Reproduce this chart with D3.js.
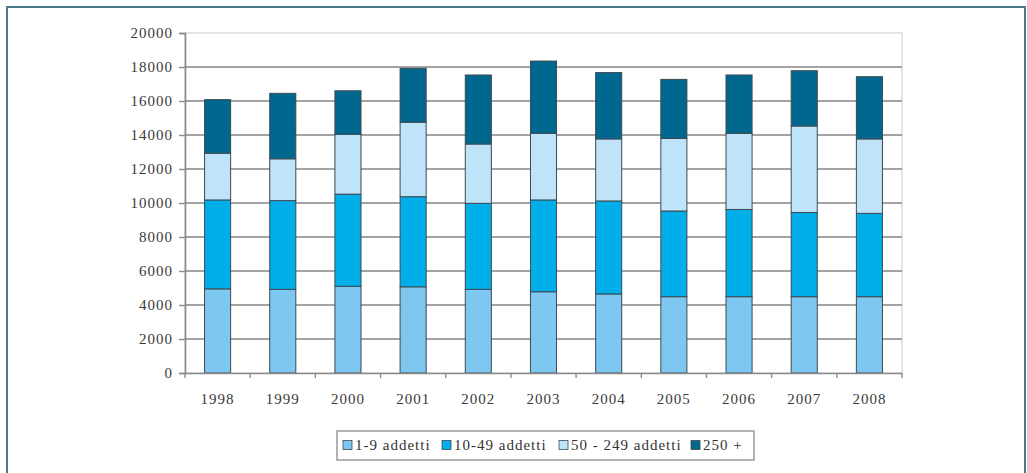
<!DOCTYPE html>
<html lang="it">

<head>
    <meta charset="UTF-8">
    <title>Addetti per classe dimensionale</title>
    <script src="https://d3js.org/d3.v7.min.js"></script>
    <style>
        body {
            margin: 0;
            background-color: #fff;
            font-family: "Liberation Serif", "Times New Roman", serif;
        }

        .axis text {
            font-family: "Liberation Serif", serif;
            font-size: 15px;
            fill: #3a3a3a;
            letter-spacing: 1px;
        }

        .legend text {
            font-family: "Liberation Serif", serif;
            font-size: 15px;
            fill: #333;
            letter-spacing: 1px;
        }
    </style>
</head>

<body>
    <div id="chart"></div>

    <script>
        // Dati
        const years = ["1998", "1999", "2000", "2001", "2002", "2003", "2004", "2005", "2006", "2007", "2008"];
        const seriesNames = ["1-9 addetti", "10-49 addetti", "50 - 249 addetti", "250 +"];
        const small = [4950, 4920, 5100, 5070, 4920, 4780, 4650, 4490, 4490, 4490, 4490];
        const medium = [5230, 5220, 5420, 5300, 5060, 5400, 5470, 5040, 5130, 4950, 4900];
        const large = [2750, 2460, 3520, 4380, 3490, 3920, 3650, 4270, 4480, 5090, 4380];
        const veryLarge = [3150, 3850, 2560, 3170, 4060, 4250, 3900, 3470, 3430, 3250, 3660];
        const yTicks = [0, 2000, 4000, 6000, 8000, 10000, 12000, 14000, 16000, 18000, 20000];
        const colors = ["#7dc7f1", "#00aeea", "#bfe3f9", "#00678e"];

        const W = 1027, H = 473;
        const margin = { top: 33, right: 125, bottom: 100, left: 185 };
        const width = W - margin.left - margin.right;
        const height = H - margin.top - margin.bottom;

        // table for d3.stack
        const keys = ["small", "medium", "large", "veryLarge"];
        const table = years.map((y, i) => ({
            year: y,
            small: small[i],
            medium: medium[i],
            large: large[i],
            veryLarge: veryLarge[i]
        }));
        const stacked = d3.stack().keys(keys)(table);

        const svg = d3.select("#chart")
            .append("svg")
            .attr("width", W)
            .attr("height", H);

        // cornice esterna
        svg.append("rect")
            .attr("x", 7)
            .attr("y", 7)
            .attr("width", 1018)
            .attr("height", 480)
            .attr("fill", "none")
            .attr("stroke", "#4b7b8a")
            .attr("stroke-width", 2);

        const g = svg.append("g")
            .attr("transform", `translate(${margin.left},${margin.top})`);

        const x = d3.scaleBand()
            .domain(years)
            .range([0, width])
            .paddingInner(0.6)
            .paddingOuter(0.3);

        const y = d3.scaleLinear()
            .domain([0, 20000])
            .range([height, 0]);

        // bordo area del grafico
        g.append("rect")
            .attr("x", 0)
            .attr("y", 0)
            .attr("width", width)
            .attr("height", height)
            .attr("fill", "none")
            .attr("stroke", "#dcdcdc")
            .attr("stroke-width", 1.5);

        // griglia
        g.selectAll(".grid")
            .data(yTicks.filter(d => d > 0 && d < 20000))
            .enter()
            .append("line")
            .attr("x1", 0)
            .attr("x2", width)
            .attr("y1", d => y(d))
            .attr("y2", d => y(d))
            .attr("stroke", "#858585")
            .attr("stroke-width", 1.6);

        // barre
        g.selectAll(".serie")
            .data(stacked)
            .enter()
            .append("g")
            .attr("fill", (d, i) => colors[i])
            .selectAll("rect")
            .data(d => d)
            .enter()
            .append("rect")
            .attr("x", d => x(d.data.year))
            .attr("y", d => y(d[1]))
            .attr("width", x.bandwidth())
            .attr("height", d => y(d[0]) - y(d[1]))
            .attr("stroke", "#3c4a52")
            .attr("stroke-width", 1);

        // asse y
        const yAxis = g.append("g")
            .attr("class", "axis")
            .call(d3.axisLeft(y).tickValues(yTicks).tickFormat(d3.format("d")).tickSize(6).tickPadding(6));
        yAxis.select(".domain").attr("stroke", "#8a8a8a").attr("stroke-width", 1.6);
        yAxis.selectAll(".tick line").attr("stroke", "#8a8a8a").attr("stroke-width", 1.4);

        // asse x con tacche tra le categorie
        const xAxis = g.append("g")
            .attr("class", "axis")
            .attr("transform", `translate(0,${height})`)
            .call(d3.axisBottom(x).tickSize(0).tickPadding(20));
        xAxis.select(".domain").attr("stroke", "#8a8a8a").attr("stroke-width", 1.6);

        const step = x.step();
        const edges = d3.range(years.length + 1).map(i => x(years[0]) - (step - x.bandwidth()) / 2 + i * step);
        xAxis.selectAll(".sep")
            .data(edges)
            .enter()
            .append("line")
            .attr("x1", d => d)
            .attr("x2", d => d)
            .attr("y1", 0)
            .attr("y2", 5)
            .attr("stroke", "#8a8a8a")
            .attr("stroke-width", 1.4);

        // legenda
        const legend = svg.append("g")
            .attr("class", "legend");

        legend.append("rect")
            .attr("x", 337)
            .attr("y", 431)
            .attr("width", 417)
            .attr("height", 29)
            .attr("fill", "#fff")
            .attr("stroke", "#9a9a9a")
            .attr("stroke-width", 1.5);

        const legendX = [343, 442, 559, 691];
        const items = legend.selectAll(".item")
            .data(seriesNames)
            .enter()
            .append("g")
            .attr("transform", (d, i) => `translate(${legendX[i]},445)`);

        items.append("rect")
            .attr("x", 0)
            .attr("y", -4.5)
            .attr("width", 9)
            .attr("height", 9)
            .attr("fill", (d, i) => colors[i])
            .attr("stroke", "#3c4a52")
            .attr("stroke-width", 0.8);

        items.append("text")
            .attr("x", 12)
            .attr("dy", "0.35em")
            .text(d => d);
    </script>
</body>

</html>
